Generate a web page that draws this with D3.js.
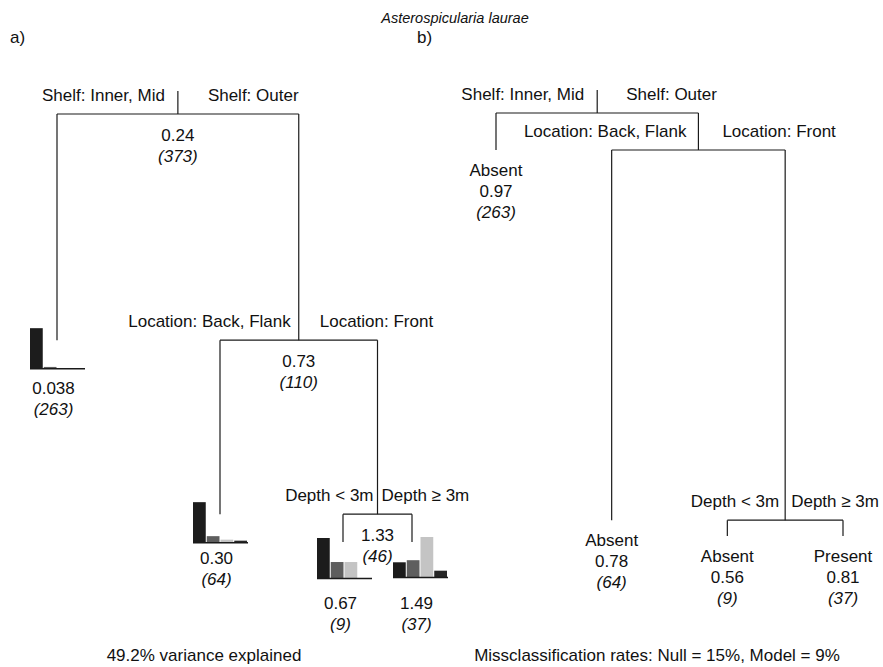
<!DOCTYPE html>
<html>
<head>
<meta charset="utf-8">
<script src="https://cdn.jsdelivr.net/npm/d3@7"></script>
<style>
  body { margin: 0; background: #fff; }
  svg text { font-family: "Liberation Sans", Arial, sans-serif; fill: #111; }
</style>
</head>
<body>
<div id="chart"></div>
<script>
// ---- data ----
// rpart node numbering: children of k are 2k and 2k+1
const nodeIds = [1, 2, 3, 6, 7, 14, 15];
const splitLeftLabels = ["Shelf: Inner, Mid", null, "Location: Back, Flank", null, "Depth < 3m", null, null];
const splitRightLabels = ["Shelf: Outer", null, "Location: Front", null, "Depth \u2265 3m", null, null];

// a) regression tree (abundance)
const aMeans = ["0.24", "0.038", "0.73", "0.30", "1.33", "0.67", "1.49"];
const aCounts = [373, 263, 110, 64, 46, 9, 37];
// relative error reached after each split (drives branch length)
const aErrorAfter = [0.740, null, 0.540, null, 0.508, null, null];
const abundanceClasses = ["0", "1", "2", "3"];
const leafHistograms = [
  [0.965, 0.030, 0.005, 0.0],
  [0.80, 0.12, 0.05, 0.03],
  [0.556, 0.222, 0.222, 0.0],
  [0.189, 0.216, 0.514, 0.081]
];

// b) classification tree (presence / absence)
const bClasses = [null, "Absent", null, "Absent", null, "Absent", "Present"];
const bProbs = [null, "0.97", null, "0.78", null, "0.56", "0.81"];
const bCounts = [null, 263, null, 64, null, 9, 37];
const bErrorAfter = [0.965, null, 0.615, null, 0.600, null, null];

const varianceText = "49.2% variance explained";
const missText = "Missclassification rates: Null = 15%, Model = 9%";

// ---- layout ----
const W = 883, H = 667;
const svg = d3.select("#chart").append("svg").attr("width", W).attr("height", H)
  .style("font-size", "17px");
const lineColor = "#1a1a1a";
const barColors = ["#1c1c1c", "#5e5e5e", "#c4c4c4", "#262626"];

svg.append("text").attr("x", 455).attr("y", 23).attr("text-anchor", "middle")
  .style("font-size", "14.5px").style("font-style", "italic").text("Asterospicularia laurae");
svg.append("text").attr("x", 10).attr("y", 43).text("a)");
svg.append("text").attr("x", 417).attr("y", 43).text("b)");

function buildTree(errorAfter, leafX, top, bottom, minErr) {
  const rows = nodeIds.map((id, i) => ({ id, i, parent: id === 1 ? null : Math.floor(id / 2) }));
  const root = d3.stratify().id(d => d.id).parentId(d => d.parent)(rows);
  root.sort((a, b) => a.data.id - b.data.id);
  const y = d3.scaleLinear().domain([1, minErr]).range([top, bottom]);
  const leaves = root.leaves();
  leaves.forEach((l, k) => { l.px = leafX(k); });
  root.eachAfter(n => { if (n.children) n.px = d3.mean(n.children, c => c.px); });
  root.each(n => { n.py = n.parent ? y(errorAfter[n.parent.data.i]) : y(1); });
  return root;
}

function drawBranches(g, root) {
  g.append("line").attr("x1", root.px).attr("x2", root.px)
    .attr("y1", root.py - 23).attr("y2", root.py);
  root.each(n => {
    if (!n.children) return;
    const [c0, c1] = n.children;
    g.append("line").attr("x1", c0.px).attr("x2", c1.px).attr("y1", n.py).attr("y2", n.py);
    n.children.forEach(c => {
      g.append("line").attr("x1", c.px).attr("x2", c.px).attr("y1", n.py).attr("y2", c.py);
    });
  });
  g.selectAll("line").attr("stroke", lineColor).attr("stroke-width", 1.2);
}

function drawSplitLabels(g, root, gaps) {
  root.each(n => {
    if (!n.children) return;
    const gap = gaps[n.depth];
    g.append("text").attr("x", n.px - gap[0]).attr("y", n.py - 13)
      .attr("text-anchor", "end").text(splitLeftLabels[n.data.i]);
    g.append("text").attr("x", n.px + gap[1]).attr("y", n.py - 13)
      .attr("text-anchor", "start").text(splitRightLabels[n.data.i]);
  });
}

// ---- a) ----
const gA = svg.append("g");
const aLeafX = d3.scaleLinear().domain([0, 1, 2, 3]).range([57, 220, 343, 412]);
const treeA = buildTree(aErrorAfter, k => aLeafX(k), 114, 542, 0.508);
drawBranches(gA, treeA);
drawSplitLabels(gA, treeA, [[13, 30], [8, 21], [4, 4]]);

treeA.each(n => {
  if (!n.children) return;
  gA.append("text").attr("x", n.px).attr("y", n.py + 27).attr("text-anchor", "middle").text(aMeans[n.data.i]);
  gA.append("text").attr("x", n.px).attr("y", n.py + 48).attr("text-anchor", "middle")
    .style("font-style", "italic").text(`(${aCounts[n.data.i]})`);
});

const histDx = [-27, -27, -26, -19];
const histDrop = [28, 28, 36, 35];
const leafTextDrop = [54, 50, 67, 67];
const histW = 55, histH = 40;
treeA.leaves().forEach((leaf, k) => {
  const x0 = leaf.px + histDx[k];
  const base = leaf.py + histDrop[k];
  const xb = d3.scaleBand().domain(abundanceClasses).range([x0, x0 + histW]).padding(0);
  const yb = d3.scaleLinear().domain([0, d3.max(leafHistograms[k])]).range([base, base - histH]);
  gA.append("g").selectAll("rect").data(leafHistograms[k]).join("rect")
    .attr("x", (d, j) => xb(abundanceClasses[j]))
    .attr("width", xb.bandwidth() - 1)
    .attr("y", d => yb(d))
    .attr("height", d => base - yb(d))
    .attr("fill", (d, j) => barColors[j]);
  gA.append("line").attr("x1", x0).attr("x2", x0 + histW).attr("y1", base + 0.5).attr("y2", base + 0.5)
    .attr("stroke", lineColor).attr("stroke-width", 1.5);
  const tx = x0 + histW / 2 - 4;
  const ty = leaf.py + leafTextDrop[k];
  gA.append("text").attr("x", tx).attr("y", ty).attr("text-anchor", "middle").text(aMeans[leaf.data.i]);
  gA.append("text").attr("x", tx).attr("y", ty + 21).attr("text-anchor", "middle")
    .style("font-style", "italic").text(`(${aCounts[leaf.data.i]})`);
});

// ---- b) ----
const gB = svg.append("g");
const bLeafX = d3.scalePoint().domain([0, 1, 2, 3]).range([496, 843]);
const treeB = buildTree(bErrorAfter, k => bLeafX(k), 113, 536, 0.600);
drawBranches(gB, treeB);
drawSplitLabels(gB, treeB, [[13, 29], [12, 24], [6, 6]]);

treeB.leaves().forEach(leaf => {
  const i = leaf.data.i;
  gB.append("text").attr("x", leaf.px).attr("y", leaf.py + 26).attr("text-anchor", "middle").text(bClasses[i]);
  gB.append("text").attr("x", leaf.px).attr("y", leaf.py + 47).attr("text-anchor", "middle").text(bProbs[i]);
  gB.append("text").attr("x", leaf.px).attr("y", leaf.py + 68).attr("text-anchor", "middle")
    .style("font-style", "italic").text(`(${bCounts[i]})`);
});

// ---- captions ----
svg.append("text").attr("x", 204).attr("y", 661).attr("text-anchor", "middle").text(varianceText);
svg.append("text").attr("x", 657).attr("y", 661).attr("text-anchor", "middle").text(missText);
</script>
</body>
</html>
